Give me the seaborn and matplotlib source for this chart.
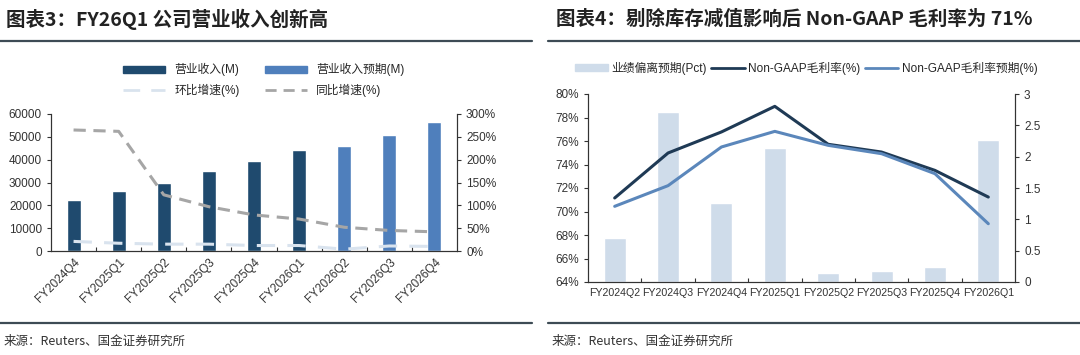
import numpy as np
import pandas as pd
import seaborn as sns
import matplotlib.pyplot as plt
from matplotlib.lines import Line2D
from matplotlib.patches import Patch
from matplotlib.ticker import FuncFormatter, MultipleLocator, FixedLocator

# ---- left chart data ----
rev_quarters = ["FY2024Q4", "FY2025Q1", "FY2025Q2", "FY2025Q3", "FY2025Q4",
                "FY2026Q1", "FY2026Q2", "FY2026Q3", "FY2026Q4"]
revenue = [22400, 26300, 30000, 35100, 39300, 44100, 46000, 51000, 56500]
rev_kind = ["actual"] * 6 + ["forecast"] * 3
qoq_growth = [21, 17, 15, 15, 12, 12, 4, 11, 10]
yoy_growth = [265, 262, 123, 97, 79, 70, 52, 45, 42]

# ---- right chart data ----
gm_quarters = ["FY2024Q2", "FY2024Q3", "FY2024Q4", "FY2025Q1",
               "FY2025Q2", "FY2025Q3", "FY2025Q4", "FY2026Q1"]
beat_pct = [0.71, 2.72, 1.26, 2.14, 0.15, 0.17, 0.24, 2.26]
gm_actual = [71.15, 74.98, 76.77, 78.95, 75.72, 75.06, 73.50, 71.23]
gm_expected = [70.44, 72.20, 75.49, 76.82, 75.63, 74.92, 73.22, 68.96]

C_ACT = "#1f4a6e"
C_FC = "#4f7fbc"
C_QOQ = "#d9e3ee"
C_YOY = "#a6a6a6"
C_BEAT = "#cfdcea"
C_GM = "#1f3a55"
C_GME = "#5b87bb"

sns.set_theme(style="white")
plt.rcParams["font.family"] = ["Liberation Sans", "Noto Sans CJK SC"]
plt.rcParams["axes.unicode_minus"] = False

fig = plt.figure(figsize=(10.8, 3.55), dpi=100)
W, H = 1080, 355


def fx(px):
    return px / W


def fy(py):
    return 1 - py / H


# headers and footers
cjk = ["Noto Sans CJK SC", "DejaVu Sans"]
fig.text(fx(6), fy(19), "图表3：FY26Q1 公司营业收入创新高", fontsize=14,
         fontweight="bold", family=cjk, va="center", color="#222222")
fig.text(fx(556), fy(19), "图表4：剔除库存减值影响后 Non-GAAP 毛利率为 71%", fontsize=14,
         fontweight="bold", family=cjk, va="center", color="#222222")
for x0, x1 in [(0, 532), (548, 1080)]:
    for yy in (41, 323):
        fig.add_artist(Line2D([fx(x0), fx(x1)], [fy(yy), fy(yy)],
                              color="#3d4b55", lw=1.6, transform=fig.transFigure))
fig.text(fx(4), fy(341), "来源：Reuters、国金证券研究所", fontsize=9, family=cjk,
         va="center", color="#333333")
fig.text(fx(552), fy(341), "来源：Reuters、国金证券研究所", fontsize=9, family=cjk,
         va="center", color="#333333")

tick_kw = dict(labelsize=8.5, colors="#333333", length=3, width=0.8)
mixed = ["Liberation Sans", "Noto Sans CJK SC"]

# ---------------- left chart ----------------
axL = fig.add_axes([fx(51), fy(251), fx(457 - 51), (251 - 114) / H])
rev_df = pd.DataFrame({"q": rev_quarters, "rev": revenue, "kind": rev_kind})
sns.barplot(data=rev_df, x="q", y="rev", hue="kind", dodge=False, width=0.31,
            palette={"actual": C_ACT, "forecast": C_FC}, legend=False, ax=axL,
            saturation=1)
axL.set_xlim(-0.5, len(rev_quarters) - 0.5)
axL.set_ylim(0, 60000)
axL.yaxis.set_major_locator(MultipleLocator(10000))
axL.set_xlabel("")
axL.set_ylabel("")
axL.tick_params(axis="y", direction="out", left=True, **tick_kw)
axL.tick_params(axis="x", which="major", length=0, labelsize=8.5, colors="#333333")
axL.set_xticks(range(len(rev_quarters)))
axL.set_xticklabels(rev_quarters, rotation=45, ha="right", rotation_mode="anchor")
axL.xaxis.set_minor_locator(FixedLocator(np.arange(0.5, len(rev_quarters) - 1, 1)))
axL.tick_params(axis="x", which="minor", direction="in", bottom=True, length=3,
                width=0.8, color="#333333")

axL2 = axL.twinx()
pos_l = np.arange(len(rev_quarters))
sns.lineplot(x=pos_l, y=qoq_growth, ax=axL2, color=C_QOQ, lw=2.2, legend=False)
axL2.lines[-1].set_dashes([6, 4])
sns.lineplot(x=pos_l, y=yoy_growth, ax=axL2, color=C_YOY, lw=2.2, legend=False)
axL2.lines[-1].set_dashes([4, 2.5])
axL2.set_ylim(0, 300)
axL2.yaxis.set_major_locator(MultipleLocator(50))
axL2.yaxis.set_major_formatter(FuncFormatter(lambda v, p: f"{v:.0f}%"))
axL2.tick_params(axis="y", direction="out", right=True, **tick_kw)
axL2.set_ylabel("")
for ax in (axL, axL2):
    ax.spines["top"].set_visible(False)
    for s in ("left", "right", "bottom"):
        ax.spines[s].set_color("#333333")
        ax.spines[s].set_linewidth(0.8)

# legend fills column-wise: order so rows read bars / lines
hL = [Patch(color=C_ACT),
      Line2D([], [], color=C_QOQ, lw=2, dashes=[6, 4]),
      Patch(color=C_FC),
      Line2D([], [], color=C_YOY, lw=2, dashes=[4, 2.5])]
lL = ["营业收入(M)", "环比增速(%)", "营业收入预期(M)", "同比增速(%)"]
fig.legend(hL, lL, loc="center", bbox_to_anchor=(fx(264), fy(80)), ncol=2,
           frameon=False, handlelength=3.5, handleheight=0.6,
           columnspacing=2.2, labelspacing=0.6, prop={"family": mixed, "size": 8.5})

# ---------------- right chart ----------------
axR = fig.add_axes([fx(588), fy(282), fx(1015 - 588), (282 - 94) / H])
axR2 = axR.twinx()
axR.set_zorder(axR2.get_zorder() + 1)
axR.patch.set_visible(False)

beat_df = pd.DataFrame({"q": gm_quarters, "beat": beat_pct})
sns.barplot(data=beat_df, x="q", y="beat", color=C_BEAT, saturation=1,
            width=0.41, ax=axR2)
axR2.set_ylim(0, 3)
axR2.yaxis.set_major_locator(MultipleLocator(0.5))
axR2.yaxis.set_major_formatter(FuncFormatter(lambda v, p: f"{v:g}"))
axR2.set_ylabel("")
axR2.set_xlabel("")

pos_r = np.arange(len(gm_quarters))
sns.lineplot(x=pos_r, y=gm_actual, ax=axR, color=C_GM, lw=2.2)
sns.lineplot(x=pos_r, y=gm_expected, ax=axR, color=C_GME, lw=2.2)
axR.set_ylim(64, 80)
axR.set_xlim(-0.5, len(gm_quarters) - 0.5)
axR2.set_xlim(-0.5, len(gm_quarters) - 0.5)
axR.yaxis.set_major_locator(MultipleLocator(2))
axR.yaxis.set_major_formatter(FuncFormatter(lambda v, p: f"{v:.0f}%"))
axR.set_xticks(pos_r)
axR.set_xticklabels(gm_quarters)
axR.tick_params(axis="x", which="major", length=0, labelsize=7.7, colors="#333333", pad=4)
axR.xaxis.set_minor_locator(FixedLocator(np.arange(0.5, len(gm_quarters) - 1, 1)))
axR.tick_params(axis="x", which="minor", direction="in", bottom=True, length=3,
                width=0.8, color="#333333")
axR.tick_params(axis="y", direction="out", left=True, **tick_kw)
axR2.tick_params(axis="y", direction="out", right=True, **tick_kw)
axR2.tick_params(axis="x", length=0, labelbottom=False)
for ax in (axR, axR2):
    ax.spines["top"].set_visible(False)
    for s in ("left", "right", "bottom"):
        ax.spines[s].set_color("#333333")
        ax.spines[s].set_linewidth(0.8)

hR = [Patch(color=C_BEAT), Line2D([], [], color=C_GM, lw=2),
      Line2D([], [], color=C_GME, lw=2)]
lR = ["业绩偏离预期(Pct)", "Non-GAAP毛利率(%)", "Non-GAAP毛利率预期(%)"]
fig.legend(hR, lR, loc="center", bbox_to_anchor=(fx(806), fy(68)), ncol=3,
           frameon=False, handlelength=2.8, handleheight=0.6, columnspacing=0.4,
           handletextpad=0.3, prop={"family": mixed, "size": 8.5})

fig.savefig("out.png", dpi=100)
